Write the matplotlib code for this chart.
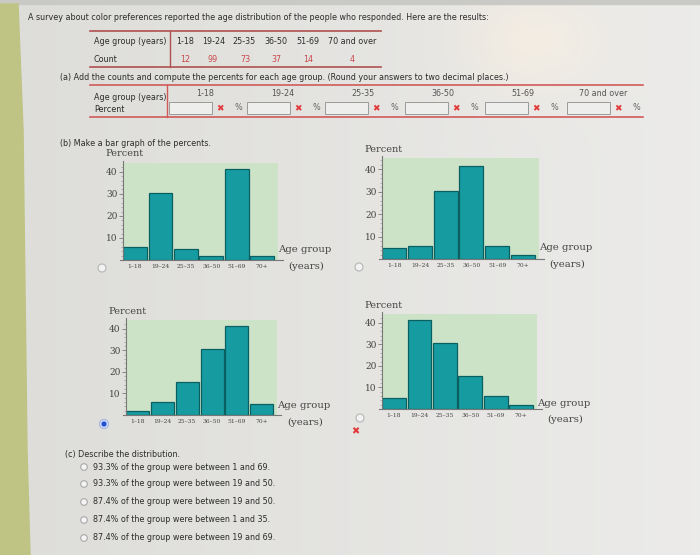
import numpy as np
import matplotlib
matplotlib.use("Agg")
import matplotlib.pyplot as plt
from matplotlib.patches import Polygon, Rectangle, Circle

# Datos de la tabla de la encuesta
age_groups = ["1-18", "19-24", "25-35", "36-50", "51-69", "70 and over"]
counts = [12, 99, 73, 37, 14, 4]

# Etiquetas de las barras
bar_labels = ["1\u201318", "19\u201324", "25\u201335", "36\u201350", "51\u201369", "70+"]

graph_a = [5.9, 30.5, 5.0, 1.7, 41.4, 1.7]
graph_b = [5.0, 5.9, 30.5, 41.4, 6.0, 1.7]
graph_c = [1.7, 5.9, 15.5, 30.5, 41.4, 5.0]
graph_d = [5.0, 41.4, 30.5, 15.5, 5.9, 1.7]

# Opciones de la parte (c)
options = [
    "93.3% of the group were between 1 and 69.",
    "93.3% of the group were between 19 and 50.",
    "87.4% of the group were between 19 and 50.",
    "87.4% of the group were between 1 and 35.",
    "87.4% of the group were between 19 and 69.",
]

W, H = 700, 555
fig = plt.figure(figsize=(7, 5.55), dpi=100)

# Capa de fondo en coordenadas de píxel
bg = fig.add_axes([0, 0, 1, 1])
bg.set_xlim(0, W)
bg.set_ylim(H, 0)
bg.axis("off")

# Degradado suave del fondo (foto de pantalla)
xx, yy = np.meshgrid(np.linspace(0, 1, 140), np.linspace(0, 1, 111))
base = np.array([0.862, 0.860, 0.845])
light = np.array([0.925, 0.922, 0.915])
t = np.clip(xx * 0.9 + 0.1, 0, 1)[..., None]
img = base * (1 - t) + light * t
glow = np.exp(-(((xx - 0.76) / 0.10) ** 2 + ((yy - 0.07) / 0.10) ** 2))[..., None]
img = img + glow * np.array([0.04, 0.02, -0.01])
bg.imshow(np.clip(img, 0, 1), extent=(0, W, H, 0), aspect="auto",
          interpolation="bilinear", zorder=0)

# Franja gris superior y franja verde a la izquierda
bg.add_patch(Rectangle((0, 0), W, 4, color="#c9c9c6", zorder=1))
bg.add_patch(Polygon([(0, 4), (18, 4), (23, 130), (27, 450), (30, 555), (0, 555)],
                     closed=True, color="#bfc383", zorder=1))

sans = "DejaVu Sans"
serif = "DejaVu Serif"
red = "#c9474a"
txt = "#2c2c2c"


def t_page(x, y, s, **kw):
    kw.setdefault("fontsize", 5.8)
    kw.setdefault("color", txt)
    kw.setdefault("va", "center")
    bg.text(x, y, s, family=sans, zorder=5, **kw)


t_page(28, 18, "A survey about color preferences reported the age distribution "
       "of the people who responded. Here are the results:")

# Tabla de conteos
bg.plot([90, 381], [31, 31], color="#b0504f", lw=1.2, zorder=4)
bg.plot([90, 381], [67, 67], color="#b0504f", lw=1.2, zorder=4)
bg.plot([170, 170], [31, 67], color="#b0504f", lw=1.0, zorder=4)
t_page(94, 42, "Age group (years)")
t_page(94, 59, "Count")
head_x = [176, 202, 232, 264, 296, 328]
cnt_x = [185, 213, 245, 276, 308, 352]
for hx, g in zip(head_x, age_groups):
    t_page(hx, 42, g)
for cx, c in zip(cnt_x, counts):
    t_page(cx, 59, str(c), color=red, ha="center")

# Parte (a)
t_page(60, 78, "(a) Add the counts and compute the percents for each age group. "
       "(Round your answers to two decimal places.)")
bg.plot([90, 643], [85, 85], color="#d05a5a", lw=1.2, zorder=4)
bg.plot([90, 643], [117, 117], color="#d05a5a", lw=1.2, zorder=4)
bg.plot([167, 167], [85, 117], color="#d05a5a", lw=1.0, zorder=4)
t_page(94, 97, "Age group (years)")
t_page(94, 110, "Percent")
col_x = [205, 283, 363, 443, 523, 603]
box_x = [169, 247, 325, 405, 485, 567]
for cx, bx, g in zip(col_x, box_x, age_groups):
    t_page(cx, 94, g, ha="center", color="#555555")
    bg.add_patch(Rectangle((bx, 102), 43, 12, facecolor="#eeeeec",
                           edgecolor="#9a9a9a", lw=0.7, zorder=4))
    bg.text(bx + 51, 108.5, "\u2716", family=sans, fontsize=6.5, color="#e23a3a",
            ha="center", va="center", zorder=5)
    t_page(bx + 69, 108, "%", ha="center", color="#666666")

# Parte (b)
t_page(60, 143, "(b) Make a bar graph of the percents.")


def draw_graph(left, top, right, bottom, values, ymax, label_y):
    ax = fig.add_axes([left / W, 1 - bottom / H, (right - left) / W, (bottom - top) / H])
    ax.set_facecolor("#cde3c8")
    x = np.arange(len(values))
    ax.bar(x, values, width=0.93, color="#169ca0", edgecolor="#0b5f61", linewidth=0.9)
    ax.set_xlim(-0.47, 5.62)
    ax.set_ylim(0, ymax)
    ax.set_yticks([10, 20, 30, 40])
    ax.set_yticks(np.arange(0, ymax, 2), minor=True)
    ax.tick_params(axis="y", which="major", labelsize=6.5, length=3, width=0.6,
                   colors="#777777", labelcolor="#444444", pad=1)
    ax.tick_params(axis="y", which="minor", length=1.5, width=0.4, colors="#888888")
    ax.set_xticks(x)
    ax.set_xticklabels(bar_labels, family=serif, fontsize=4.3, color="#444444")
    ax.tick_params(axis="x", length=0, pad=3)
    for lab in ax.get_yticklabels():
        lab.set_family(serif)
    for s in ["top", "right"]:
        ax.spines[s].set_visible(False)
    ax.spines["left"].set_color("#777777")
    ax.spines["left"].set_linewidth(0.8)
    ax.spines["left"].set_bounds(0, ymax + 1)
    ax.spines["bottom"].set_color("#777777")
    ax.spines["bottom"].set_linewidth(0.8)
    ax.spines["bottom"].set_bounds(-0.6, 5.8)
    # Textos de los ejes
    bg.text(left - 18, top - 9, "Percent", family=serif, fontsize=7, color="#444444",
            va="center", zorder=5)
    bg.text(right + 27, label_y, "Age group", family=serif, fontsize=7.3,
            color="#444444", ha="center", va="center", zorder=5)
    bg.text(right + 28, label_y + 16, "(years)", family=serif, fontsize=7.3,
            color="#444444", ha="center", va="center", zorder=5)
    return ax


draw_graph(123, 163, 278, 260, graph_a, 44, 250)
draw_graph(382, 158, 539, 259, graph_b, 45, 248)
draw_graph(126, 320, 277, 415, graph_c, 44, 406)
draw_graph(382, 314, 537, 409, graph_d, 44, 403)

# Botones de selección de las gráficas
for cx, cy in [(102, 268), (359, 267), (360, 418)]:
    bg.add_patch(Circle((cx, cy), 4, facecolor="#f2f2f2", edgecolor="#b5b5b5",
                        lw=0.8, zorder=5))
bg.add_patch(Circle((104, 424), 4.5, facecolor="#d7e2f5", edgecolor="#9fb3e0",
                    lw=0.8, zorder=5))
bg.add_patch(Circle((104, 424), 2.6, facecolor="#1d4fd8", edgecolor="none", zorder=6))
bg.text(355, 431, "\u2716", family=sans, fontsize=7, color="#e23a3a",
        ha="center", va="center", zorder=6)

# Parte (c)
t_page(65, 455, "(c) Describe the distribution.")
opt_y = [467, 484, 502, 520, 538]
for oy, o in zip(opt_y, options):
    bg.add_patch(Circle((84, oy), 3.3, facecolor="#f4f4f4", edgecolor="#a8a8a8",
                        lw=0.8, zorder=5))
    t_page(93, oy, o)

fig.savefig("out.png", dpi=100)
